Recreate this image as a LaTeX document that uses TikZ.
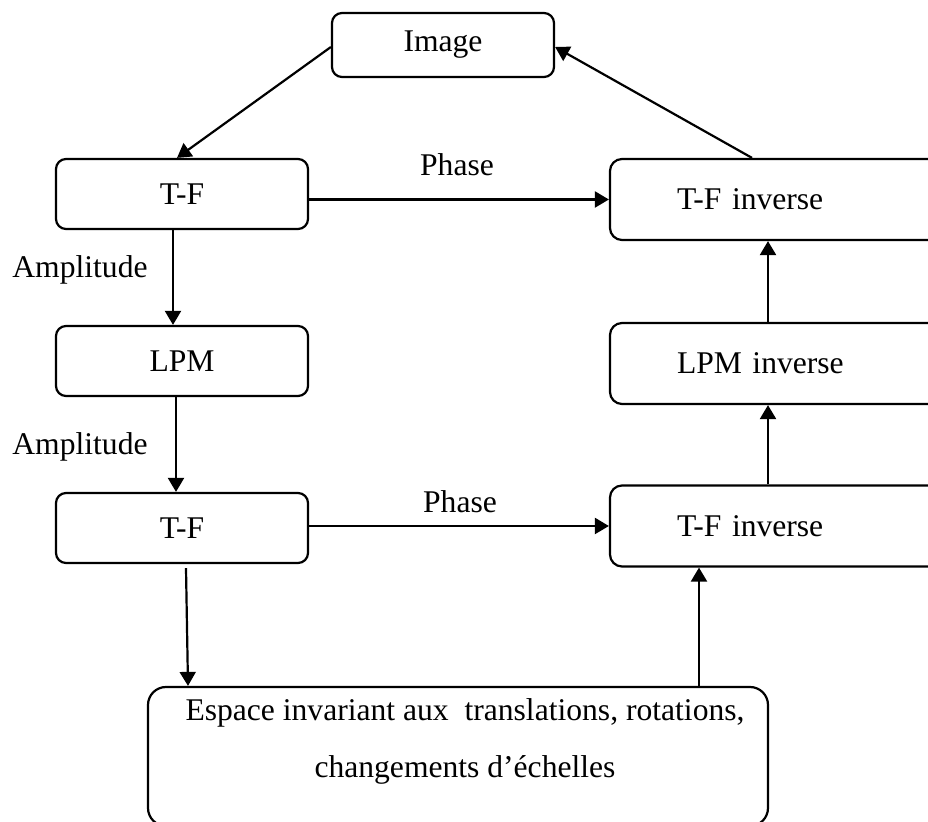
\documentclass[tikz,border=0pt]{standalone}
\usepackage{fontspec}
\setmainfont{Liberation Serif}
\usetikzlibrary{arrows.meta}
\begin{document}
\begin{tikzpicture}[x=0.5pt,y=-0.5pt,
  every node/.style={font=\fontsize{15.8}{18}\selectfont},
  box/.style={draw, line width=1.1pt, rounded corners=5pt,
    minimum width=126pt, minimum height=35pt, inner sep=0pt},
  rbox/.style={draw, line width=1.1pt, rounded corners=6pt,
    minimum height=40.5pt, text width=100.5pt, inner xsep=33.5pt,
    inner ysep=0pt, align=left},
  bigbox/.style={draw, line width=1.1pt, rounded corners=9pt,
    minimum width=310pt, minimum height=69.5pt, inner sep=0pt},
  lbl/.style={inner sep=0pt},
  arr/.style={line width=1.1pt, -{Triangle[length=7pt,width=8pt]}}]
\useasboundingbox (0,0) rectangle (928,822);
\clip (0,0) rectangle (928,822);

% processing blocks
\node[box, minimum width=111pt, minimum height=32pt] (img) at (443,45) {Image};
\node[box] (tf1) at (182,194) {T-F};
\node[box] (lpm) at (182,361) {LPM};
\node[box] (tf2) at (182,528) {T-F};
\node[rbox] (tfi1) at (777.5,199.5) {T-F inverse};
\node[rbox] (lpmi) at (777.5,363.5) {LPM inverse};
\node[rbox] (tfi2) at (777.5,526) {T-F inverse};
\node[bigbox] (esp) at (458,756.5) {};
\node[align=center, inner sep=0pt, font=\fontsize{15.8}{28.5}\selectfont]
  (esptxt) at (465,741) {Espace invariant aux~ translations, rotations,\\changements d’échelles};

% connector labels
\node[lbl] (ph1) at (457,165) {Phase};
\node[lbl] (ph2) at (460,502) {Phase};
\node[lbl] (am1) at (80,270) {Amplitude};
\node[lbl] (am2) at (80,447) {Amplitude};

% connectors
\draw[arr] ([yshift=-1pt]img.west) -- ([xshift=-2.5pt]tf1.north);
\draw[arr] ([xshift=-12.75pt]tfi1.north) -- ([yshift=-1pt]img.east);
\draw[arr] (tf1.east |- tfi1.west) -- (tfi1.west);
\draw[arr] ([xshift=-4.5pt]tf1.south) -- ([xshift=-4.5pt]lpm.north);
\draw[arr] ([xshift=-3pt]lpm.south) -- ([xshift=-3pt]tf2.north);
\draw[arr] (tf2.east |- tfi2.west) -- (tfi2.west);
\draw[arr] ([xshift=2pt,yshift=-2pt]tf2.south) -- ([xshift=-135pt]esp.north);
\draw[arr] ([xshift=120.5pt]esp.north) -- ([xshift=-39.25pt]tfi2.south);
\draw[arr] ([xshift=-4.75pt]tfi2.north) -- ([xshift=-4.75pt]lpmi.south);
\draw[arr] ([xshift=-4.75pt]lpmi.north) -- ([xshift=-4.75pt]tfi1.south);
\end{tikzpicture}
\end{document}
